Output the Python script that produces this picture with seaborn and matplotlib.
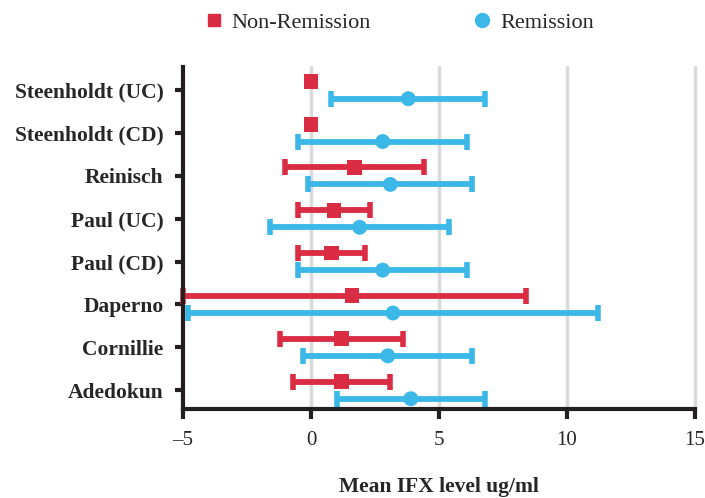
import numpy as np
import pandas as pd
import seaborn as sns
import matplotlib.pyplot as plt
from matplotlib.lines import Line2D

# values (mean IFX level ug/ml)
studies = ['Steenholdt (UC)', 'Steenholdt (CD)', 'Reinisch', 'Paul (UC)',
           'Paul (CD)', 'Daperno', 'Cornillie', 'Adedokun']
non_mean = [0.0, 0.0, 1.7, 0.9, 0.8, 1.6, 1.2, 1.2]
non_low = [np.nan, np.nan, -1.0, -0.5, -0.5, -5.0, -1.2, -0.7]
non_high = [np.nan, np.nan, 4.4, 2.3, 2.1, 8.4, 3.6, 3.1]
rem_mean = [3.8, 2.8, 3.1, 1.9, 2.8, 3.2, 3.0, 3.9]
rem_low = [0.8, -0.5, -0.1, -1.6, -0.5, -4.8, -0.3, 1.0]
rem_high = [6.8, 6.1, 6.3, 5.4, 6.1, 11.2, 6.3, 6.8]

red = '#da2c43'
blue = '#3bb8e8'

rows = []
for i, s in enumerate(studies):
    rows.append(dict(study=s, pos=i - 0.2, group='Non-Remission',
                     mean=non_mean[i], low=non_low[i], high=non_high[i]))
    rows.append(dict(study=s, pos=i + 0.2, group='Remission',
                     mean=rem_mean[i], low=rem_low[i], high=rem_high[i]))
df = pd.DataFrame(rows)

sns.set_style('white')
plt.rcParams['font.family'] = ['Liberation Serif', 'DejaVu Serif']

fig = plt.figure(figsize=(7.05, 4.98), dpi=100)
ax = fig.add_axes([0.2596, 0.1787, 0.7262, 0.6868])

for x in [0, 5, 10, 15]:
    ax.axvline(x, color='#d9d9d9', lw=2.5, zorder=0, clip_on=False)

palette = {'Non-Remission': red, 'Remission': blue}
for g, sub in df.groupby('group'):
    sub = sub.dropna()
    ax.errorbar(sub['mean'], sub['pos'],
                xerr=[sub['mean'] - sub['low'], sub['high'] - sub['mean']],
                fmt='none', ecolor=palette[g], elinewidth=4.2,
                capsize=5.5, capthick=4, zorder=2, clip_on=False)

sns.scatterplot(data=df, x='mean', y='pos', hue='group', style='group',
                palette=palette, markers={'Non-Remission': 's', 'Remission': 'o'},
                s=115, edgecolor='none', legend=False, ax=ax, zorder=3)

ax.set_xlim(-5, 15)
ax.set_ylim(7.44, -0.54)
ax.set_xticks([-5, 0, 5, 10, 15])
ax.set_xticklabels(['\u20135', '0', '5', '10', '15'])
ax.set_yticks(range(len(studies)))
ax.set_yticklabels(studies, fontweight='bold')
ax.tick_params(axis='x', length=7, width=3, labelsize=15, pad=9, color='#231f20')
ax.tick_params(axis='y', length=6, width=3, labelsize=15.5, pad=8, color='#231f20')
ax.tick_params(left=True, bottom=True)

for side in ['top', 'right']:
    ax.spines[side].set_visible(False)
for side in ['left', 'bottom']:
    ax.spines[side].set_linewidth(3)
    ax.spines[side].set_color('#231f20')

ax.set_xlabel('Mean IFX level ug/ml', fontsize=15.5, fontweight='bold', labelpad=19)
ax.set_ylabel('')

handles = [Line2D([], [], marker='s', ls='none', color=red, markersize=9),
           Line2D([], [], marker='o', ls='none', color=blue, markersize=10)]
fig.legend(handles, ['Non-Remission', 'Remission'], loc='center',
           bbox_to_anchor=(0.565, 0.955), ncol=2, frameon=False, fontsize=16,
           columnspacing=4.5, handlelength=1.0, handletextpad=0.3)

fig.savefig('out.png', dpi=100)
